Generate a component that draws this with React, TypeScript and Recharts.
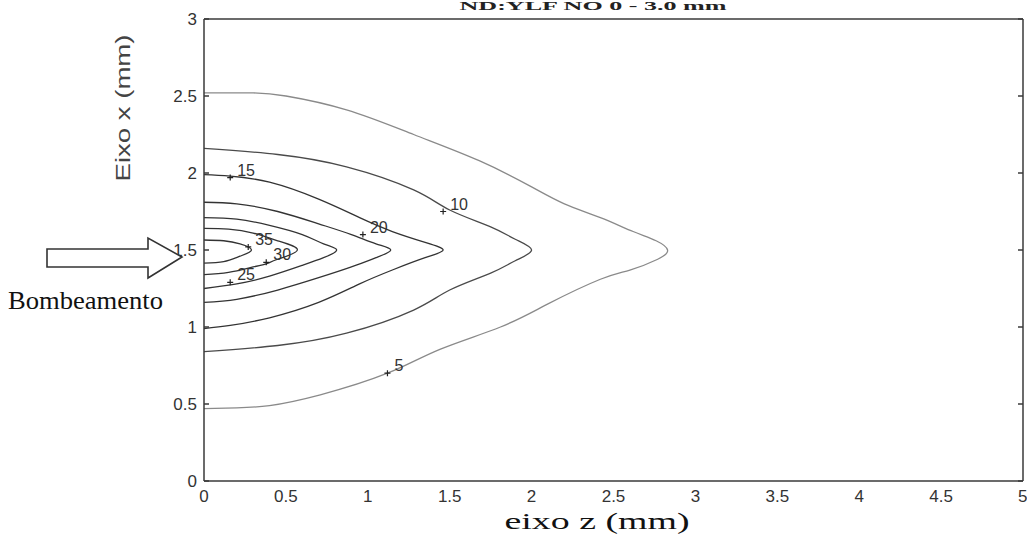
import { LineChart, Line, XAxis, YAxis, ReferenceDot } from 'recharts';

// eixo z (mm) e eixo x (mm)
const zTicks = [0, 0.5, 1, 1.5, 2, 2.5, 3, 3.5, 4, 4.5, 5];
const xTicks = [0, 0.5, 1, 1.5, 2, 2.5, 3];

// curvas de nível, percorridas de cima (z=0) até a ponta e de volta a z=0 por baixo
const iso5 = [
    { z: 0, x: 2.52 }, { z: 0.3, x: 2.52 }, { z: 0.5, x: 2.5 }, { z: 0.87, x: 2.41 },
    { z: 1.28, x: 2.25 }, { z: 1.68, x: 2.08 }, { z: 2.0, x: 1.91 }, { z: 2.2, x: 1.8 },
    { z: 2.42, x: 1.71 }, { z: 2.62, x: 1.62 }, { z: 2.76, x: 1.56 }, { z: 2.83, x: 1.5 },
    { z: 2.77, x: 1.44 }, { z: 2.6, x: 1.37 }, { z: 2.42, x: 1.31 }, { z: 2.1, x: 1.15 },
    { z: 1.81, x: 1.0 }, { z: 1.44, x: 0.855 }, { z: 1.12, x: 0.7 }, { z: 0.71, x: 0.56 },
    { z: 0.4, x: 0.49 }, { z: 0.2, x: 0.475 }, { z: 0, x: 0.47 },
];
const iso10 = [
    { z: 0, x: 2.16 }, { z: 0.45, x: 2.12 }, { z: 0.87, x: 2.04 }, { z: 1.28, x: 1.89 },
    { z: 1.5, x: 1.76 }, { z: 1.75, x: 1.65 }, { z: 1.9, x: 1.57 }, { z: 2.0, x: 1.5 },
    { z: 1.9, x: 1.43 }, { z: 1.75, x: 1.35 }, { z: 1.5, x: 1.24 }, { z: 1.28, x: 1.11 },
    { z: 0.87, x: 0.96 }, { z: 0.45, x: 0.88 }, { z: 0, x: 0.84 },
];
const iso15 = [
    { z: 0, x: 1.99 }, { z: 0.16, x: 1.98 }, { z: 0.4, x: 1.94 }, { z: 0.7, x: 1.83 },
    { z: 0.95, x: 1.71 }, { z: 1.15, x: 1.62 }, { z: 1.35, x: 1.55 }, { z: 1.46, x: 1.5 },
    { z: 1.35, x: 1.45 }, { z: 1.15, x: 1.37 }, { z: 0.95, x: 1.28 }, { z: 0.7, x: 1.16 },
    { z: 0.4, x: 1.06 }, { z: 0.16, x: 1.01 }, { z: 0, x: 0.99 },
];
const iso20 = [
    { z: 0, x: 1.81 }, { z: 0.2, x: 1.8 }, { z: 0.45, x: 1.75 }, { z: 0.7, x: 1.67 },
    { z: 0.9, x: 1.6 }, { z: 1.05, x: 1.54 }, { z: 1.14, x: 1.5 }, { z: 1.05, x: 1.45 },
    { z: 0.9, x: 1.39 }, { z: 0.7, x: 1.32 }, { z: 0.45, x: 1.24 }, { z: 0.2, x: 1.18 },
    { z: 0, x: 1.16 },
];
const iso25 = [
    { z: 0, x: 1.71 }, { z: 0.2, x: 1.7 }, { z: 0.4, x: 1.66 }, { z: 0.6, x: 1.6 },
    { z: 0.73, x: 1.54 }, { z: 0.81, x: 1.5 }, { z: 0.73, x: 1.45 }, { z: 0.6, x: 1.4 },
    { z: 0.4, x: 1.33 }, { z: 0.2, x: 1.28 }, { z: 0, x: 1.25 },
];
const iso30 = [
    { z: 0, x: 1.64 }, { z: 0.15, x: 1.635 }, { z: 0.3, x: 1.61 }, { z: 0.45, x: 1.56 },
    { z: 0.57, x: 1.5 }, { z: 0.45, x: 1.44 }, { z: 0.38, x: 1.41 }, { z: 0.3, x: 1.39 },
    { z: 0.15, x: 1.355 }, { z: 0, x: 1.34 },
];
const iso35 = [
    { z: 0, x: 1.565 }, { z: 0.12, x: 1.56 }, { z: 0.22, x: 1.54 }, { z: 0.29, x: 1.5 },
    { z: 0.22, x: 1.46 }, { z: 0.12, x: 1.425 }, { z: 0, x: 1.415 },
];

const isoLevels = [5, 10, 15, 20, 25, 30, 35];
const isoCurves = [iso5, iso10, iso15, iso20, iso25, iso30, iso35];

// onde fica o "+" de cada rótulo
const tagZ = [1.12, 1.46, 0.16, 0.97, 0.16, 0.38, 0.27];
const tagX = [0.70, 1.75, 1.97, 1.60, 1.29, 1.42, 1.52];

const strokeFor = (level: number) => (level === 5 ? '#8a8a8a' : level === 10 ? '#4a4a4a' : '#333');

const frame = { stroke: '#3a3a3a', strokeWidth: 1.5 };
const tickText = { fontFamily: 'Liberation Sans, Arial, sans-serif', fontSize: 17, fill: '#333' };
// eixos espelhados: só os tracinhos para dentro, sem texto
const noLabel = () => <g />;

function ContourTag({ cx, cy, text }: { cx: number; cy: number; text: string }) {
    return (
        <g>
            <path d={`M${cx - 3},${cy}H${cx + 3}M${cx},${cy - 3}V${cy + 3}`} stroke="#222" strokeWidth={1.2} />
            <text x={cx + 7} y={cy - 2} fontFamily="Liberation Sans, Arial, sans-serif" fontSize={16} fill="#333">
                {text}
            </text>
        </g>
    );
}

export default function App() {
    return (
        <div style={{ position: 'absolute', left: 0, top: 0, width: 1027, height: 537, background: '#fff' }}>
            <LineChart width={1027} height={537} margin={{ top: 19, right: 4, left: 0, bottom: 0 }}>
                <XAxis
                    dataKey="z"
                    type="number"
                    domain={[0, 5]}
                    allowDataOverflow
                    ticks={zTicks}
                    height={56}
                    tickLine={false}
                    tickMargin={3}
                    axisLine={frame}
                    tick={tickText}
                />
                <XAxis xAxisId="inner" type="number" domain={[0, 5]} allowDataOverflow ticks={zTicks} mirror tick={noLabel} tickSize={5} axisLine={false} tickLine={frame} />
                <XAxis xAxisId="top" orientation="top" type="number" domain={[0, 5]} allowDataOverflow ticks={zTicks} mirror tick={noLabel} tickSize={5} axisLine={frame} tickLine={frame} />
                <YAxis
                    type="number"
                    domain={[0, 3]}
                    allowDataOverflow
                    ticks={xTicks}
                    width={204}
                    tickLine={false}
                    tickMargin={1}
                    axisLine={frame}
                    tick={tickText}
                />
                <YAxis yAxisId="inner" type="number" domain={[0, 3]} allowDataOverflow ticks={xTicks} mirror tick={noLabel} tickSize={5} axisLine={false} tickLine={frame} />
                <YAxis yAxisId="right" orientation="right" type="number" domain={[0, 3]} allowDataOverflow ticks={xTicks} mirror tick={noLabel} tickSize={5} axisLine={frame} tickLine={frame} />

                {isoCurves.map((pts, i) => (
                    <Line
                        key={isoLevels[i]}
                        data={pts}
                        dataKey="x"
                        type="natural"
                        stroke={strokeFor(isoLevels[i])}
                        strokeWidth={1.3}
                        dot={false}
                        activeDot={false}
                        isAnimationActive={false}
                    />
                ))}

                {isoLevels.map((level, i) => (
                    <ReferenceDot
                        key={`tag-${level}`}
                        x={tagZ[i]}
                        y={tagX[i]}
                        r={0}
                        ifOverflow="visible"
                        shape={(p: any) => <ContourTag cx={p.cx} cy={p.cy} text={String(level)} />}
                    />
                ))}
            </LineChart>

            <svg width={1027} height={537} style={{ position: 'absolute', left: 0, top: 0, pointerEvents: 'none' }}>
                <text x={593} y={10} textAnchor="middle" fontFamily="Liberation Serif, serif" fontWeight="bold" fontSize={12} textLength={267} lengthAdjust="spacingAndGlyphs" fill="#222">
                    ND:YLF NO 0 - 3.0 mm
                </text>
                <text
                    transform="translate(123,108) rotate(-90)"
                    textAnchor="middle"
                    dominantBaseline="central"
                    fontFamily="Liberation Sans, Arial, sans-serif"
                    fontSize={20}
                    textLength={147}
                    lengthAdjust="spacingAndGlyphs"
                    fill="#444"
                >
                    Eixo x (mm)
                </text>
                <text x={597} y={529} textAnchor="middle" fontFamily="Liberation Serif, serif" fontSize={24} textLength={185} lengthAdjust="spacingAndGlyphs" fill="#111">
                    eixo z (mm)
                </text>
                <polygon
                    points="47,249 148,249 148,238 182,257 148,278 148,267 47,267"
                    fill="#fff"
                    stroke="#333"
                    strokeWidth={1.6}
                    strokeLinejoin="miter"
                />
                <text x={8} y={309} fontFamily="Liberation Serif, serif" fontSize={25} textLength={155} lengthAdjust="spacingAndGlyphs" fill="#111">
                    Bombeamento
                </text>
            </svg>
        </div>
    );
}
